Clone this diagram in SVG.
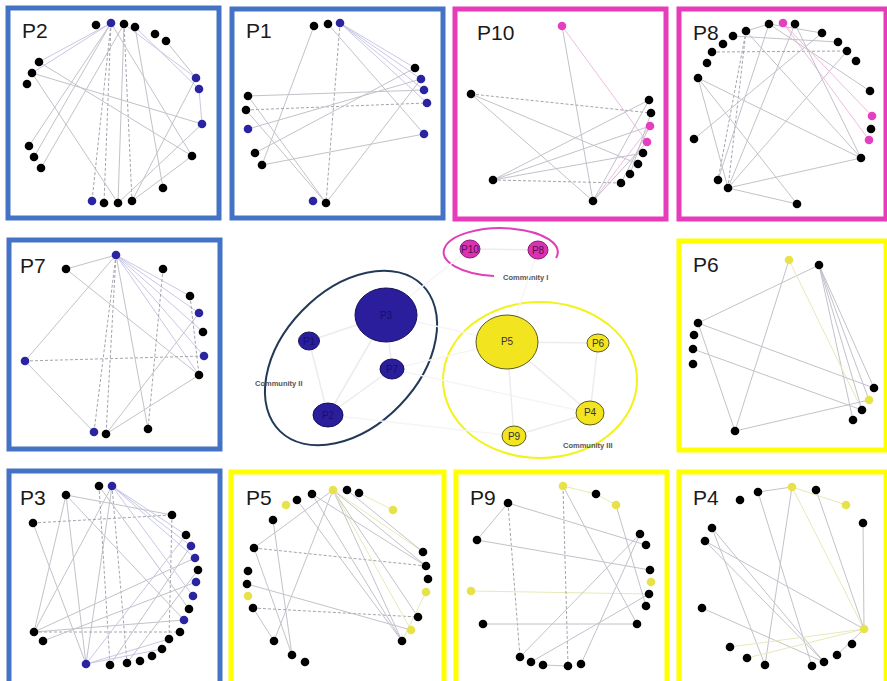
<svg xmlns="http://www.w3.org/2000/svg" width="887" height="681" viewBox="0 0 887 681">
<style>
  .fb{fill:none;stroke:#4472C4;stroke-width:5}
  .fp{fill:none;stroke:#E63BBA;stroke-width:5}
  .fy{fill:none;stroke:#FFFF00;stroke-width:5}
  .lbl{font-family:"Liberation Sans","DejaVu Sans",sans-serif;font-size:21px;fill:#1a1a1a}
  .k{fill:#000}
  .bl{fill:#2B24A0}
  .pk{fill:#E43FC0}
  .yl{fill:#E8E24A}
  .e line{stroke:#c2c2ca;stroke-width:1}
  .e line.d{stroke:#a4a4ae;stroke-dasharray:3 2}
  .e line.t{stroke:#c8c8e6}
  .e line.p{stroke:#f0bce2}
  .e line.y{stroke:#e8e8b8}
  .ce line{stroke:#ececec;stroke-width:1.5}
  .ce line.f{stroke:#f5f5f5}
  .ct{font-family:"Liberation Sans","DejaVu Sans",sans-serif;font-size:7.5px;font-weight:bold;fill:#555}
  .nl{font-family:"Liberation Sans","DejaVu Sans",sans-serif;font-size:10px;text-anchor:middle;dominant-baseline:central}
</style>
<rect width="887" height="681" fill="#fff"/>

<!-- ===== panel P2 ===== -->
<g id="panel-P2">
  <rect class="fb" x="8" y="8" width="211" height="210"/>
  <text class="lbl" x="22" y="38">P2</text>
  <g class="e">
    <line class="t" x1="111" y1="23" x2="39" y2="62"/>
    <line class="t" x1="111" y1="23" x2="32" y2="73"/>
    <line x1="111" y1="23" x2="29" y2="146"/>
    <line x1="111" y1="23" x2="34" y2="157"/>
    <line x1="124" y1="24" x2="41" y2="168"/>
    <line class="d" x1="111" y1="23" x2="92" y2="201"/>
    <line class="d" x1="111" y1="23" x2="104" y2="203"/>
    <line x1="124" y1="24" x2="118" y2="203"/>
    <line class="d" x1="124" y1="24" x2="132" y2="201"/>
    <line x1="135" y1="27" x2="163" y2="188"/>
    <line x1="111" y1="23" x2="192" y2="156"/>
    <line class="t" x1="124" y1="24" x2="196" y2="78"/>
    <line class="t" x1="135" y1="27" x2="199" y2="89"/>
    <line x1="166" y1="41" x2="196" y2="78"/>
    <line x1="32" y1="73" x2="202" y2="124"/>
    <line x1="39" y1="62" x2="192" y2="156"/>
    <line x1="32" y1="73" x2="118" y2="203"/>
    <line x1="196" y1="78" x2="132" y2="201"/>
    <line x1="202" y1="124" x2="118" y2="203"/>
    <line x1="192" y1="156" x2="132" y2="201"/>
    <line class="t" x1="199" y1="89" x2="202" y2="124"/>
  </g>
  <circle class="k" cx="96" cy="25" r="4.3"/><circle class="bl" cx="111" cy="23" r="4.3"/>
  <circle class="k" cx="124" cy="24" r="4.3"/><circle class="k" cx="135" cy="27" r="4.3"/>
  <circle class="k" cx="155" cy="34" r="4.3"/><circle class="k" cx="166" cy="41" r="4.3"/>
  <circle class="bl" cx="196" cy="78" r="4.3"/><circle class="bl" cx="199" cy="89" r="4.3"/>
  <circle class="bl" cx="202" cy="124" r="4.3"/><circle class="k" cx="192" cy="156" r="4.3"/>
  <circle class="k" cx="163" cy="188" r="4.3"/><circle class="k" cx="132" cy="201" r="4.3"/>
  <circle class="k" cx="118" cy="203" r="4.3"/><circle class="k" cx="104" cy="203" r="4.3"/>
  <circle class="bl" cx="92" cy="201" r="4.3"/><circle class="k" cx="41" cy="168" r="4.3"/>
  <circle class="k" cx="34" cy="157" r="4.3"/><circle class="k" cx="29" cy="146" r="4.3"/>
  <circle class="k" cx="27" cy="84" r="4.3"/><circle class="k" cx="32" cy="73" r="4.3"/>
  <circle class="k" cx="39" cy="62" r="4.3"/>
</g>

<!-- ===== panel P1 ===== -->
<g id="panel-P1">
  <rect class="fb" x="232" y="9" width="211" height="209"/>
  <text class="lbl" x="246" y="38">P1</text>
  <g class="e">
    <line x1="314" y1="26" x2="262" y2="165"/>
    <line x1="328" y1="24" x2="424" y2="134"/>
    <line class="t" x1="340" y1="23" x2="415" y2="68"/>
    <line class="t" x1="340" y1="23" x2="421" y2="79"/>
    <line class="t" x1="340" y1="23" x2="424" y2="90"/>
    <line class="t" x1="340" y1="23" x2="427" y2="103"/>
    <line class="d" x1="340" y1="23" x2="326" y2="203"/>
    <line class="d" x1="246" y1="110" x2="427" y2="103"/>
    <line x1="248" y1="96" x2="424" y2="90"/>
    <line x1="246" y1="110" x2="326" y2="203"/>
    <line x1="248" y1="96" x2="326" y2="203"/>
    <line x1="248" y1="129" x2="421" y2="79"/>
    <line x1="255" y1="153" x2="415" y2="68"/>
    <line x1="262" y1="165" x2="424" y2="134"/>
    <line x1="326" y1="203" x2="421" y2="79"/>
  </g>
  <circle class="k" cx="314" cy="26" r="4.3"/><circle class="k" cx="328" cy="24" r="4.3"/>
  <circle class="bl" cx="340" cy="23" r="4.3"/><circle class="k" cx="415" cy="68" r="4.3"/>
  <circle class="bl" cx="421" cy="79" r="4.3"/><circle class="bl" cx="424" cy="90" r="4.3"/>
  <circle class="bl" cx="427" cy="103" r="4.3"/><circle class="bl" cx="424" cy="134" r="4.3"/>
  <circle class="k" cx="326" cy="203" r="4.3"/><circle class="bl" cx="313" cy="201" r="4.3"/>
  <circle class="k" cx="262" cy="165" r="4.3"/><circle class="k" cx="255" cy="153" r="4.3"/>
  <circle class="bl" cx="248" cy="129" r="4.3"/><circle class="k" cx="246" cy="110" r="4.3"/>
  <circle class="k" cx="248" cy="96" r="4.3"/>
</g>

<!-- ===== panel P10 ===== -->
<g id="panel-P10">
  <rect class="fp" x="455" y="9" width="211" height="210"/>
  <text class="lbl" x="477" y="40">P10</text>
  <g class="e">
    <line x1="562" y1="26" x2="593" y2="201"/>
    <line class="p" x1="562" y1="26" x2="647" y2="142"/>
    <line class="d" x1="471" y1="94" x2="651" y2="113"/>
    <line x1="471" y1="94" x2="593" y2="201"/>
    <line x1="471" y1="94" x2="638" y2="164"/>
    <line x1="493" y1="180" x2="649" y2="100"/>
    <line x1="493" y1="180" x2="650" y2="126"/>
    <line x1="493" y1="180" x2="643" y2="153"/>
    <line class="d" x1="493" y1="180" x2="621" y2="183"/>
    <line x1="593" y1="201" x2="649" y2="100"/>
    <line class="p" x1="593" y1="201" x2="650" y2="126"/>
    <line x1="593" y1="201" x2="647" y2="142"/>
    <line x1="621" y1="183" x2="650" y2="126"/>
    <line x1="630" y1="174" x2="651" y2="113"/>
  </g>
  <circle class="pk" cx="562" cy="26" r="4.3"/><circle class="k" cx="471" cy="94" r="4.3"/>
  <circle class="k" cx="649" cy="100" r="4.3"/><circle class="k" cx="651" cy="113" r="4.3"/>
  <circle class="pk" cx="650" cy="126" r="4.3"/><circle class="pk" cx="647" cy="142" r="4.3"/>
  <circle class="k" cx="643" cy="153" r="4.3"/><circle class="k" cx="638" cy="164" r="4.3"/>
  <circle class="k" cx="630" cy="174" r="4.3"/><circle class="k" cx="621" cy="183" r="4.3"/>
  <circle class="k" cx="593" cy="201" r="4.3"/><circle class="k" cx="493" cy="180" r="4.3"/>
</g>

<!-- ===== panel P8 ===== -->
<g id="panel-P8">
  <rect class="fp" x="679" y="9" width="207" height="210"/>
  <text class="lbl" x="693" y="40">P8</text>
  <g class="e">
    <line class="d" x1="746" y1="31" x2="718" y2="180"/>
    <line class="d" x1="746" y1="31" x2="728" y2="188"/>
    <line x1="746" y1="31" x2="861" y2="158"/>
    <line x1="698" y1="78" x2="861" y2="158"/>
    <line x1="698" y1="78" x2="797" y2="204"/>
    <line x1="698" y1="78" x2="728" y2="188"/>
    <line x1="694" y1="139" x2="822" y2="33"/>
    <line x1="728" y1="188" x2="861" y2="158"/>
    <line x1="728" y1="188" x2="797" y2="204"/>
    <line x1="728" y1="188" x2="795" y2="24"/>
    <line x1="728" y1="188" x2="847" y2="51"/>
    <line x1="718" y1="180" x2="769" y2="24"/>
    <line class="d" x1="712" y1="52" x2="847" y2="51"/>
    <line class="p" x1="783" y1="23" x2="872" y2="116"/>
    <line class="p" x1="783" y1="23" x2="869" y2="140"/>
    <line x1="795" y1="24" x2="861" y2="158"/>
    <line x1="769" y1="24" x2="822" y2="33"/>
    <line x1="769" y1="24" x2="870" y2="91"/>
    <line x1="746" y1="31" x2="769" y2="24"/>
    <line x1="733" y1="36" x2="838" y2="42"/>
  </g>
  <circle class="k" cx="769" cy="24" r="4.3"/><circle class="pk" cx="783" cy="23" r="4.3"/>
  <circle class="k" cx="795" cy="24" r="4.3"/><circle class="k" cx="822" cy="33" r="4.3"/>
  <circle class="k" cx="838" cy="42" r="4.3"/><circle class="k" cx="847" cy="51" r="4.3"/>
  <circle class="k" cx="856" cy="61" r="4.3"/><circle class="k" cx="870" cy="91" r="4.3"/>
  <circle class="pk" cx="872" cy="116" r="4.3"/><circle class="k" cx="871" cy="129" r="4.3"/>
  <circle class="pk" cx="869" cy="140" r="4.3"/><circle class="k" cx="861" cy="158" r="4.3"/>
  <circle class="k" cx="797" cy="204" r="4.3"/><circle class="k" cx="728" cy="188" r="4.3"/>
  <circle class="k" cx="718" cy="180" r="4.3"/><circle class="k" cx="694" cy="139" r="4.3"/>
  <circle class="k" cx="698" cy="78" r="4.3"/><circle class="k" cx="707" cy="63" r="4.3"/>
  <circle class="k" cx="712" cy="52" r="4.3"/><circle class="k" cx="723" cy="44" r="4.3"/>
  <circle class="k" cx="733" cy="36" r="4.3"/><circle class="k" cx="746" cy="31" r="4.3"/>
</g>

<!-- ===== panel P7 ===== -->
<g id="panel-P7">
  <rect class="fb" x="9" y="240" width="211" height="209"/>
  <text class="lbl" x="20" y="273">P7</text>
  <g class="e">
    <line x1="116" y1="255" x2="66" y2="269"/>
    <line x1="116" y1="255" x2="25" y2="361"/>
    <line class="d" x1="116" y1="255" x2="94" y2="432"/>
    <line class="d" x1="116" y1="255" x2="106" y2="434"/>
    <line x1="116" y1="255" x2="148" y2="429"/>
    <line class="t" x1="116" y1="255" x2="190" y2="296"/>
    <line class="t" x1="116" y1="255" x2="199" y2="313"/>
    <line class="t" x1="116" y1="255" x2="203" y2="332"/>
    <line class="t" x1="116" y1="255" x2="204" y2="356"/>
    <line class="t" x1="116" y1="255" x2="199" y2="375"/>
    <line x1="66" y1="269" x2="199" y2="375"/>
    <line class="d" x1="163" y1="269" x2="148" y2="429"/>
    <line class="d" x1="25" y1="361" x2="204" y2="356"/>
    <line x1="25" y1="361" x2="94" y2="432"/>
    <line x1="106" y1="434" x2="199" y2="313"/>
    <line x1="106" y1="434" x2="199" y2="375"/>
    <line class="d" x1="190" y1="296" x2="199" y2="375"/>
  </g>
  <circle class="bl" cx="116" cy="255" r="4.3"/><circle class="k" cx="66" cy="269" r="4.3"/>
  <circle class="k" cx="163" cy="269" r="4.3"/><circle class="k" cx="190" cy="296" r="4.3"/>
  <circle class="bl" cx="199" cy="313" r="4.3"/><circle class="k" cx="203" cy="332" r="4.3"/>
  <circle class="bl" cx="204" cy="356" r="4.3"/><circle class="k" cx="199" cy="375" r="4.3"/>
  <circle class="k" cx="148" cy="429" r="4.3"/><circle class="k" cx="106" cy="434" r="4.3"/>
  <circle class="bl" cx="94" cy="432" r="4.3"/><circle class="bl" cx="25" cy="361" r="4.3"/>
</g>

<!-- ===== panel P6 ===== -->
<g id="panel-P6">
  <rect class="fy" x="679" y="241" width="207" height="209"/>
  <text class="lbl" x="693" y="272">P6</text>
  <g class="e">
    <line x1="819" y1="265" x2="698" y2="323"/>
    <line x1="819" y1="265" x2="874" y2="388"/>
    <line x1="819" y1="265" x2="862" y2="410"/>
    <line x1="819" y1="265" x2="853" y2="420"/>
    <line x1="819" y1="265" x2="869" y2="400"/>
    <line x1="789" y1="260" x2="735" y2="431"/>
    <line class="y" x1="789" y1="260" x2="862" y2="410"/>
    <line x1="698" y1="323" x2="874" y2="388"/>
    <line x1="698" y1="323" x2="735" y2="431"/>
    <line x1="693" y1="349" x2="862" y2="410"/>
    <line x1="735" y1="431" x2="869" y2="400"/>
  </g>
  <circle class="yl" cx="789" cy="260" r="4.3"/><circle class="k" cx="819" cy="265" r="4.3"/>
  <circle class="k" cx="698" cy="323" r="4.3"/><circle class="k" cx="694" cy="335" r="4.3"/>
  <circle class="k" cx="693" cy="349" r="4.3"/><circle class="k" cx="693" cy="364" r="4.3"/>
  <circle class="k" cx="735" cy="431" r="4.3"/><circle class="k" cx="874" cy="388" r="4.3"/>
  <circle class="yl" cx="869" cy="400" r="4.3"/><circle class="k" cx="862" cy="410" r="4.3"/>
  <circle class="k" cx="853" cy="420" r="4.3"/>
</g>

<!-- ===== panel P3 ===== -->
<g id="panel-P3">
  <rect class="fb" x="9" y="471" width="211" height="215"/>
  <text class="lbl" x="20" y="505">P3</text>
  <g class="e">
    <line class="t" x1="112" y1="486" x2="186" y2="535"/>
    <line class="t" x1="112" y1="486" x2="191" y2="546"/>
    <line class="t" x1="112" y1="486" x2="195" y2="558"/>
    <line x1="112" y1="486" x2="86" y2="664"/>
    <line x1="112" y1="486" x2="34" y2="632"/>
    <line class="d" x1="99" y1="486" x2="110" y2="665"/>
    <line class="d" x1="112" y1="486" x2="127" y2="663"/>
    <line x1="66" y1="495" x2="34" y2="632"/>
    <line x1="66" y1="495" x2="86" y2="664"/>
    <line x1="66" y1="495" x2="184" y2="620"/>
    <line x1="66" y1="495" x2="172" y2="515"/>
    <line class="d" x1="33" y1="523" x2="172" y2="515"/>
    <line class="d" x1="172" y1="515" x2="169" y2="639"/>
    <line x1="34" y1="632" x2="195" y2="558"/>
    <line x1="34" y1="632" x2="184" y2="620"/>
    <line class="d" x1="34" y1="632" x2="180" y2="632"/>
    <line x1="43" y1="641" x2="196" y2="582"/>
    <line class="t" x1="86" y1="664" x2="186" y2="535"/>
    <line class="t" x1="86" y1="664" x2="162" y2="649"/>
    <line class="t" x1="86" y1="664" x2="169" y2="639"/>
    <line x1="110" y1="665" x2="191" y2="546"/>
    <line x1="127" y1="663" x2="198" y2="570"/>
    <line x1="33" y1="523" x2="86" y2="664"/>
    <line class="t" x1="112" y1="486" x2="193" y2="596"/>
    <line x1="99" y1="486" x2="189" y2="609"/>
  </g>
  <circle class="k" cx="99" cy="486" r="4.3"/><circle class="bl" cx="112" cy="486" r="4.3"/>
  <circle class="k" cx="66" cy="495" r="4.3"/><circle class="k" cx="33" cy="523" r="4.3"/>
  <circle class="k" cx="172" cy="515" r="4.3"/><circle class="k" cx="186" cy="535" r="4.3"/>
  <circle class="bl" cx="191" cy="546" r="4.3"/><circle class="bl" cx="195" cy="558" r="4.3"/>
  <circle class="k" cx="198" cy="570" r="4.3"/><circle class="bl" cx="196" cy="582" r="4.3"/>
  <circle class="bl" cx="193" cy="596" r="4.3"/><circle class="k" cx="189" cy="609" r="4.3"/>
  <circle class="bl" cx="184" cy="620" r="4.3"/><circle class="k" cx="180" cy="632" r="4.3"/>
  <circle class="k" cx="169" cy="639" r="4.3"/><circle class="k" cx="162" cy="649" r="4.3"/>
  <circle class="k" cx="152" cy="656" r="4.3"/><circle class="k" cx="140" cy="661" r="4.3"/>
  <circle class="k" cx="127" cy="663" r="4.3"/><circle class="k" cx="110" cy="665" r="4.3"/>
  <circle class="bl" cx="86" cy="664" r="4.3"/><circle class="k" cx="34" cy="632" r="4.3"/>
  <circle class="k" cx="43" cy="641" r="4.3"/>
</g>

<!-- ===== panel P5 ===== -->
<g id="panel-P5">
  <rect class="fy" x="231" y="472" width="213" height="214"/>
  <text class="lbl" x="246" y="505">P5</text>
  <g class="e">
    <line x1="273" y1="520" x2="292" y2="655"/>
    <line class="d" x1="254" y1="548" x2="426" y2="566"/>
    <line x1="254" y1="548" x2="292" y2="655"/>
    <line class="d" x1="253" y1="608" x2="418" y2="617"/>
    <line x1="253" y1="608" x2="274" y2="641"/>
    <line x1="247" y1="584" x2="411" y2="630"/>
    <line x1="333" y1="490" x2="254" y2="548"/>
    <line x1="333" y1="490" x2="274" y2="641"/>
    <line x1="333" y1="490" x2="402" y2="641"/>
    <line x1="333" y1="490" x2="418" y2="617"/>
    <line class="y" x1="333" y1="490" x2="423" y2="552"/>
    <line x1="333" y1="490" x2="426" y2="566"/>
    <line class="y" x1="333" y1="490" x2="411" y2="630"/>
    <line x1="347" y1="490" x2="423" y2="552"/>
    <line class="y" x1="359" y1="493" x2="393" y2="510"/>
    <line x1="297" y1="500" x2="402" y2="641"/>
    <line x1="312" y1="494" x2="402" y2="641"/>
    <line x1="312" y1="494" x2="426" y2="566"/>
    <line class="y" x1="402" y1="641" x2="426" y2="592"/>
  </g>
  <circle class="k" cx="273" cy="520" r="4.3"/><circle class="yl" cx="286" cy="505" r="4.3"/>
  <circle class="k" cx="297" cy="500" r="4.3"/><circle class="k" cx="312" cy="494" r="4.3"/>
  <circle class="yl" cx="333" cy="490" r="4.3"/><circle class="k" cx="347" cy="490" r="4.3"/>
  <circle class="k" cx="359" cy="493" r="4.3"/><circle class="yl" cx="393" cy="510" r="4.3"/>
  <circle class="k" cx="423" cy="552" r="4.3"/><circle class="k" cx="426" cy="566" r="4.3"/>
  <circle class="k" cx="428" cy="579" r="4.3"/><circle class="yl" cx="426" cy="592" r="4.3"/>
  <circle class="k" cx="418" cy="617" r="4.3"/><circle class="yl" cx="411" cy="630" r="4.3"/>
  <circle class="k" cx="402" cy="641" r="4.3"/><circle class="k" cx="305" cy="662" r="4.3"/>
  <circle class="k" cx="292" cy="655" r="4.3"/><circle class="k" cx="274" cy="641" r="4.3"/>
  <circle class="k" cx="253" cy="608" r="4.3"/><circle class="yl" cx="248" cy="596" r="4.3"/>
  <circle class="k" cx="247" cy="584" r="4.3"/><circle class="k" cx="248" cy="571" r="4.3"/>
  <circle class="k" cx="254" cy="548" r="4.3"/>
</g>

<!-- ===== panel P9 ===== -->
<g id="panel-P9">
  <rect class="fy" x="456" y="472" width="211" height="214"/>
  <text class="lbl" x="470" y="505">P9</text>
  <g class="e">
    <line x1="508" y1="503" x2="477" y2="540"/>
    <line x1="508" y1="503" x2="646" y2="545"/>
    <line class="d" x1="508" y1="503" x2="520" y2="657"/>
    <line x1="477" y1="540" x2="650" y2="570"/>
    <line class="y" x1="471" y1="591" x2="649" y2="594"/>
    <line x1="483" y1="624" x2="637" y2="624"/>
    <line class="d" x1="563" y1="486" x2="568" y2="666"/>
    <line x1="563" y1="486" x2="637" y2="624"/>
    <line class="y" x1="563" y1="486" x2="596" y2="494"/>
    <line class="y" x1="596" y1="494" x2="616" y2="505"/>
    <line x1="616" y1="505" x2="646" y2="606"/>
    <line x1="640" y1="534" x2="520" y2="657"/>
    <line x1="640" y1="534" x2="581" y2="664"/>
    <line x1="649" y1="594" x2="531" y2="662"/>
    <line x1="543" y1="665" x2="568" y2="666"/>
  </g>
  <circle class="yl" cx="563" cy="486" r="4.3"/><circle class="k" cx="596" cy="494" r="4.3"/>
  <circle class="yl" cx="616" cy="505" r="4.3"/><circle class="k" cx="508" cy="503" r="4.3"/>
  <circle class="k" cx="477" cy="540" r="4.3"/><circle class="k" cx="640" cy="534" r="4.3"/>
  <circle class="k" cx="646" cy="545" r="4.3"/><circle class="k" cx="650" cy="570" r="4.3"/>
  <circle class="yl" cx="651" cy="582" r="4.3"/><circle class="k" cx="649" cy="594" r="4.3"/>
  <circle class="k" cx="646" cy="606" r="4.3"/><circle class="k" cx="637" cy="624" r="4.3"/>
  <circle class="yl" cx="471" cy="591" r="4.3"/><circle class="k" cx="483" cy="624" r="4.3"/>
  <circle class="k" cx="520" cy="657" r="4.3"/><circle class="k" cx="531" cy="662" r="4.3"/>
  <circle class="k" cx="543" cy="665" r="4.3"/><circle class="k" cx="568" cy="666" r="4.3"/>
  <circle class="k" cx="581" cy="664" r="4.3"/>
</g>

<!-- ===== panel P4 ===== -->
<g id="panel-P4">
  <rect class="fy" x="679" y="472" width="207" height="214"/>
  <text class="lbl" x="693" y="505">P4</text>
  <g class="e">
    <line x1="758" y1="492" x2="792" y2="487"/>
    <line x1="758" y1="492" x2="812" y2="666"/>
    <line x1="792" y1="487" x2="765" y2="665"/>
    <line class="y" x1="792" y1="487" x2="864" y2="629"/>
    <line x1="816" y1="490" x2="864" y2="629"/>
    <line x1="863" y1="523" x2="864" y2="629"/>
    <line x1="712" y1="528" x2="765" y2="665"/>
    <line x1="712" y1="528" x2="824" y2="662"/>
    <line x1="705" y1="541" x2="864" y2="629"/>
    <line x1="705" y1="541" x2="824" y2="662"/>
    <line x1="702" y1="608" x2="824" y2="662"/>
    <line class="y" x1="730" y1="647" x2="864" y2="629"/>
    <line class="y" x1="747" y1="658" x2="864" y2="629"/>
    <line x1="837" y1="655" x2="864" y2="629"/>
    <line class="y" x1="792" y1="487" x2="846" y2="505"/>
  </g>
  <circle class="k" cx="740" cy="500" r="4.3"/><circle class="k" cx="758" cy="492" r="4.3"/>
  <circle class="yl" cx="792" cy="487" r="4.3"/><circle class="k" cx="816" cy="490" r="4.3"/>
  <circle class="yl" cx="846" cy="505" r="4.3"/><circle class="k" cx="863" cy="523" r="4.3"/>
  <circle class="k" cx="712" cy="528" r="4.3"/><circle class="k" cx="705" cy="541" r="4.3"/>
  <circle class="k" cx="702" cy="608" r="4.3"/><circle class="yl" cx="864" cy="629" r="4.3"/>
  <circle class="k" cx="852" cy="644" r="4.3"/><circle class="k" cx="837" cy="655" r="4.3"/>
  <circle class="k" cx="824" cy="662" r="4.3"/><circle class="k" cx="812" cy="666" r="4.3"/>
  <circle class="k" cx="765" cy="665" r="4.3"/><circle class="k" cx="747" cy="658" r="4.3"/>
  <circle class="k" cx="730" cy="647" r="4.3"/>
</g>

<!-- ===== central community graph ===== -->
<g id="communities">
  <path d="M556 258 A57 24 0 1 0 494 276" fill="none" stroke="#E03FBA" stroke-width="2"/>
  <ellipse cx="351" cy="358" rx="102" ry="68" transform="rotate(-46 351 358)" fill="none" stroke="#223A58" stroke-width="2"/>
  <ellipse cx="540" cy="380" rx="97" ry="78" fill="none" stroke="#F2F21E" stroke-width="2"/>
  <text class="ct" x="503" y="280">Community I</text>
  <text class="ct" x="255" y="386">Community II</text>
  <text class="ct" x="563" y="448">Community III</text>
</g>

<g id="connectors" class="ce">
  <line class="f" x1="386" y1="315" x2="470" y2="249"/>
  <line class="f" x1="386" y1="315" x2="507" y2="342"/>
  <line class="f" x1="392" y1="369" x2="507" y2="342"/>
  <line class="f" x1="328" y1="415" x2="514" y2="436"/>
  <line class="f" x1="392" y1="369" x2="590" y2="413"/>
  <line class="f" x1="507" y1="342" x2="538" y2="250"/>
  <line x1="470" y1="249" x2="538" y2="250"/>
  <line x1="309" y1="341" x2="386" y2="315"/>
  <line x1="386" y1="315" x2="392" y2="369"/>
  <line x1="386" y1="315" x2="328" y2="415"/>
  <line x1="309" y1="341" x2="328" y2="415"/>
  <line x1="392" y1="369" x2="328" y2="415"/>
  <line x1="507" y1="342" x2="598" y2="343"/>
  <line x1="507" y1="342" x2="590" y2="413"/>
  <line x1="507" y1="342" x2="514" y2="436"/>
  <line x1="598" y1="343" x2="590" y2="413"/>
  <line x1="590" y1="413" x2="514" y2="436"/>
</g>

<g id="node-P10"><ellipse cx="470" cy="249" rx="10" ry="9" fill="#D932B4" stroke="#8a1a70" stroke-width="1"/><text class="nl" x="470" y="249" fill="#5a0f4a" font-size="9">P10</text></g>
<g id="node-P8"><ellipse cx="538" cy="250" rx="10" ry="9" fill="#D932B4" stroke="#8a1a70" stroke-width="1"/><text class="nl" x="538" y="250" fill="#5a0f4a" font-size="9">P8</text></g>
<g id="node-P3"><ellipse cx="386" cy="315" rx="31" ry="27" fill="#2A1E9C" stroke="#15105a" stroke-width="1"/><text class="nl" x="386" y="315" fill="#17106a">P3</text></g>
<g id="node-P1"><ellipse cx="309" cy="341" rx="10.5" ry="9" fill="#2A1E9C" stroke="#15105a" stroke-width="1"/><text class="nl" x="309" y="341" fill="#17106a" font-size="9">P1</text></g>
<g id="node-P7"><ellipse cx="392" cy="369" rx="12" ry="10" fill="#2A1E9C" stroke="#15105a" stroke-width="1"/><text class="nl" x="392" y="369" fill="#17106a" font-size="9">P7</text></g>
<g id="node-P2"><ellipse cx="328" cy="415" rx="15" ry="12" fill="#2A1E9C" stroke="#15105a" stroke-width="1"/><text class="nl" x="328" y="415" fill="#17106a" font-size="9">P2</text></g>
<g id="node-P5"><ellipse cx="507" cy="342" rx="31" ry="27" fill="#F2E41E" stroke="#5c5a22" stroke-width="1"/><text class="nl" x="507" y="341" fill="#333">P5</text></g>
<g id="node-P6"><ellipse cx="598" cy="343" rx="11" ry="9" fill="#F2E41E" stroke="#5c5a22" stroke-width="1"/><text class="nl" x="598" y="343" fill="#333" font-size="9">P6</text></g>
<g id="node-P4"><ellipse cx="590" cy="413" rx="14" ry="12" fill="#F2E41E" stroke="#5c5a22" stroke-width="1"/><text class="nl" x="590" y="412" fill="#333" font-size="9.5">P4</text></g>
<g id="node-P9"><ellipse cx="514" cy="436" rx="12" ry="10" fill="#F2E41E" stroke="#5c5a22" stroke-width="1"/><text class="nl" x="514" y="436" fill="#333" font-size="9">P9</text></g>
</svg>
